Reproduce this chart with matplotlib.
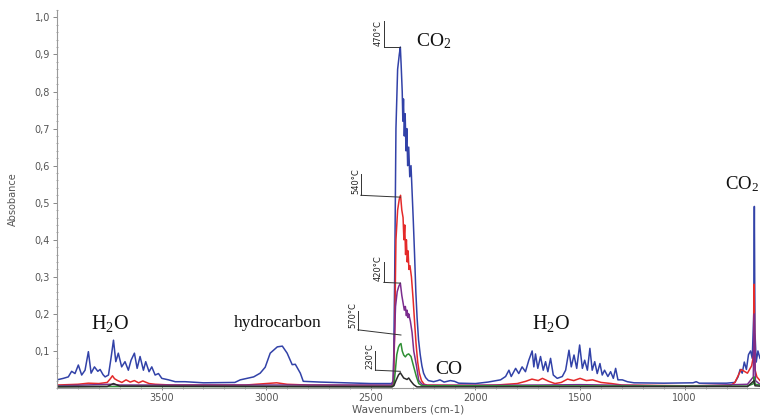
"""
FTIR spectra of evolved gas at several temperatures (absorbance vs wavenumber)
"""
import numpy as np
import matplotlib
matplotlib.use('Agg')
import matplotlib.pyplot as plt
from matplotlib.ticker import MultipleLocator, FuncFormatter

# ---- data (wavenumber cm-1, absorbance) ----
wn_470 = [4000, 3970, 3946, 3930, 3914, 3898, 3882, 3866, 3850, 3837, 3821, 3805, 3794,
          3780, 3770, 3754, 3742, 3730, 3719, 3707, 3691, 3675, 3659, 3646, 3630, 3617,
          3603, 3587, 3576, 3560, 3547, 3531, 3515, 3499, 3467, 3435, 3388, 3300, 3150,
          3124, 3060, 3029, 3005, 2981, 2947, 2923, 2900, 2876, 2861, 2837, 2823, 2742,
          2679, 2500, 2400, 2392, 2386, 2380, 2372, 2364, 2359, 2355, 2350, 2347, 2344,
          2340, 2336, 2332, 2328, 2324, 2319, 2314, 2308, 2302, 2297, 2291, 2285, 2279,
          2272, 2264, 2256, 2248, 2238, 2225, 2200, 2180, 2170, 2150, 2120, 2100, 2080,
          2000, 1940, 1880, 1856, 1840, 1829, 1808, 1793, 1777, 1761, 1745, 1729, 1721,
          1713, 1702, 1689, 1676, 1665, 1654, 1641, 1628, 1609, 1585, 1569, 1553, 1542,
          1529, 1516, 1502, 1489, 1478, 1465, 1453, 1442, 1430, 1418, 1405, 1394, 1383,
          1367, 1354, 1341, 1330, 1319, 1298, 1274, 1242, 1100, 960, 945, 930, 800, 760,
          745, 735, 725, 715, 705, 695, 685, 677, 670, 667, 664, 658, 650, 640]
ab_470 = [0.022, 0.026, 0.030, 0.045, 0.039, 0.062, 0.035, 0.048, 0.098, 0.040, 0.057, 0.045,
          0.050, 0.036, 0.030, 0.035, 0.080, 0.129, 0.071, 0.094, 0.057, 0.071, 0.048, 0.075,
          0.094, 0.053, 0.085, 0.048, 0.071, 0.044, 0.057, 0.035, 0.039, 0.026, 0.022, 0.017,
          0.017, 0.014, 0.015, 0.022, 0.030, 0.040, 0.056, 0.094, 0.111, 0.113, 0.094, 0.063,
          0.064, 0.040, 0.018, 0.016, 0.015, 0.012, 0.012, 0.020, 0.300, 0.700, 0.860, 0.900,
          0.920, 0.870, 0.800, 0.720, 0.780, 0.680, 0.740, 0.640, 0.700, 0.600, 0.650, 0.570,
          0.600, 0.520, 0.450, 0.360, 0.260, 0.190, 0.130, 0.090, 0.060, 0.040, 0.028, 0.020,
          0.017, 0.020, 0.022, 0.016, 0.020, 0.018, 0.013, 0.012, 0.016, 0.022, 0.031, 0.048,
          0.031, 0.053, 0.039, 0.057, 0.044, 0.075, 0.100, 0.057, 0.092, 0.053, 0.085, 0.048,
          0.071, 0.044, 0.080, 0.035, 0.026, 0.031, 0.048, 0.102, 0.057, 0.089, 0.053, 0.116,
          0.053, 0.075, 0.048, 0.107, 0.048, 0.071, 0.039, 0.066, 0.035, 0.048, 0.031, 0.044,
          0.026, 0.053, 0.022, 0.022, 0.017, 0.014, 0.013, 0.014, 0.017, 0.013, 0.013, 0.015,
          0.030, 0.050, 0.040, 0.070, 0.050, 0.090, 0.100, 0.080, 0.200, 0.490, 0.150, 0.070,
          0.100, 0.080]

wn_540 = [4000, 3900, 3850, 3800, 3760, 3745, 3735, 3725, 3710, 3690, 3670, 3650, 3630,
          3610, 3590, 3560, 3530, 3450, 3100, 2950, 2900, 2800, 2400, 2392, 2386, 2380,
          2372, 2364, 2358, 2352, 2346, 2342, 2338, 2334, 2330, 2326, 2322, 2318, 2313,
          2306, 2298, 2290, 2284, 2276, 2268, 2258, 2245, 2230, 2000, 1900, 1800, 1760,
          1730, 1700, 1680, 1650, 1620, 1590, 1560, 1530, 1500, 1470, 1440, 1400, 1350,
          1300, 1000, 780, 760, 730, 700, 680, 670, 668, 664, 655, 640]
ab_540 = [0.008, 0.010, 0.013, 0.012, 0.015, 0.025, 0.033, 0.025, 0.020, 0.015, 0.022, 0.016,
          0.020, 0.014, 0.019, 0.012, 0.010, 0.008, 0.008, 0.014, 0.010, 0.008, 0.006, 0.010,
          0.150, 0.400, 0.480, 0.510, 0.520, 0.480, 0.460, 0.400, 0.440, 0.360, 0.400, 0.340,
          0.370, 0.320, 0.330, 0.300, 0.240, 0.170, 0.120, 0.070, 0.040, 0.020, 0.010, 0.008,
          0.007, 0.008, 0.012, 0.018, 0.024, 0.020, 0.026, 0.018, 0.012, 0.015, 0.024, 0.020,
          0.026, 0.020, 0.022, 0.015, 0.012, 0.008, 0.006, 0.007, 0.015, 0.050, 0.040, 0.060,
          0.090, 0.280, 0.050, 0.030, 0.020]

wn_420 = [4000, 3740, 3700, 2950, 2400, 2394, 2388, 2382, 2374, 2366, 2359, 2352, 2346,
          2340, 2335, 2330, 2327, 2322, 2319, 2311, 2303, 2295, 2282, 2271, 2255, 2230,
          1700, 1500, 1000, 700, 672, 668, 662, 640]
ab_420 = [0.006, 0.010, 0.008, 0.008, 0.008, 0.020, 0.120, 0.220, 0.260, 0.275, 0.283, 0.250,
          0.230, 0.210, 0.220, 0.195, 0.210, 0.190, 0.200, 0.180, 0.150, 0.100, 0.060, 0.020,
          0.010, 0.007, 0.008, 0.009, 0.005, 0.010, 0.030, 0.200, 0.020, 0.010]

wn_570 = [4000, 2400, 2390, 2384, 2376, 2368, 2362, 2356, 2350, 2343, 2335, 2327, 2319,
          2308, 2295, 2282, 2271, 2255, 700, 670, 668, 664, 640]
ab_570 = [0.004, 0.004, 0.008, 0.040, 0.090, 0.110, 0.117, 0.120, 0.100, 0.089, 0.084, 0.090,
          0.092, 0.085, 0.057, 0.030, 0.012, 0.006, 0.005, 0.012, 0.030, 0.010, 0.008]

wn_230 = [4000, 3760, 3730, 3700, 2400, 2390, 2380, 2368, 2359, 2343, 2327, 2319, 2308,
          2295, 2280, 700, 668, 664, 640]
ab_230 = [0.003, 0.004, 0.012, 0.005, 0.003, 0.006, 0.020, 0.035, 0.041, 0.027, 0.023, 0.027,
          0.018, 0.009, 0.003, 0.004, 0.020, 0.006, 0.005]

series = [('470°C', wn_470, ab_470, '#3242a8'),
          ('540°C', wn_540, ab_540, '#e42a2a'),
          ('420°C', wn_420, ab_420, '#7b2d8e'),
          ('570°C', wn_570, ab_570, '#2f8f35'),
          ('230°C', wn_230, ab_230, '#2a2a2a')]

# temperature labels: (label, text/bar x, bar bottom, bar top, line end y)
temp_labels = [('470°C', 2438, 0.920, 0.990, 0.920),
               ('540°C', 2548, 0.520, 0.578, 0.515),
               ('420°C', 2438, 0.285, 0.340, 0.283),
               ('570°C', 2562, 0.157, 0.208, 0.143),
               ('230°C', 2478, 0.048, 0.100, 0.045)]

# gas labels: (text, wavenumber, absorbance, fontsize, horizontal alignment)
gas_labels = [('H$_2$O', 3745, 0.175, 14.5, 'center'),
              ('hydrocarbon', 2945, 0.175, 12.5, 'center'),
              ('CO$_2$', 2200, 0.935, 14, 'center'),
              ('CO', 2130, 0.05, 14, 'center'),
              ('H$_2$O', 1640, 0.175, 14.5, 'center'),
              ('CO$_2$', 806, 0.55, 13.5, 'left')]

yticks = [0.1, 0.2, 0.3, 0.4, 0.5, 0.6, 0.7, 0.8, 0.9, 1.0]
xticks = [3500, 3000, 2500, 2000, 1500, 1000]


def main():
    plt.rcParams['mathtext.fontset'] = 'custom'
    plt.rcParams['mathtext.rm'] = 'Liberation Serif'
    plt.rcParams['mathtext.it'] = 'Liberation Serif:italic'

    fig = plt.figure(figsize=(7.6, 4.15), dpi=100)
    ax = fig.add_axes([57 / 760, 27 / 415, 703 / 760, 378 / 415])

    for name, wn, ab, col in series:
        ax.plot(wn, ab, color=col, lw=1.1, label=name)

    # leader lines from label to the CO2 peak of each curve
    peaks = {}
    for name, wn, ab, col in series:
        wn = np.array(wn)
        ab = np.array(ab)
        m = (wn > 2200) & (wn < 2450)
        peaks[name] = wn[m][np.argmax(ab[m])]
    for name, xb, yb, yt, ye in temp_labels:
        ax.plot([xb, xb], [yb, yt], color='#333333', lw=0.7)
        ax.plot([xb, peaks[name]], [yb, ye], color='#333333', lw=0.7)
        ax.text(xb + 4, yb + 0.004, name, rotation=90, ha='right', va='bottom',
                fontsize=6, color='#222222')

    for txt, x, y, fs, ha in gas_labels:
        ax.text(x, y, txt, ha=ha, va='center', fontsize=fs,
                family='Liberation Serif', color='#111111', clip_on=False)

    ax.set_xlim(4000, 640)
    ax.set_ylim(0, 1.02)
    ax.set_xticks(xticks)
    ax.set_yticks(yticks)
    ax.xaxis.set_minor_locator(MultipleLocator(100))
    ax.yaxis.set_minor_locator(MultipleLocator(0.02))
    ax.yaxis.set_major_formatter(FuncFormatter(lambda v, p: ('%.1f' % v).replace('.', ',')))

    for s in ['top', 'right']:
        ax.spines[s].set_visible(False)
    for s in ['left', 'bottom']:
        ax.spines[s].set_color('#9a9a9a')
        ax.spines[s].set_linewidth(0.8)
    ax.tick_params(axis='both', which='major', labelsize=7, labelcolor='#555555',
                   color='#888888', length=3, width=0.7, pad=2)
    ax.tick_params(axis='both', which='minor', color='#999999', length=2, width=0.6,
                   direction='inout')
    ax.tick_params(axis='x', which='major', direction='inout')

    ax.set_ylabel('Absobance', fontsize=7, color='#555555', labelpad=12)
    ax.set_xlabel('Wavenumbers (cm-1)', fontsize=7.5, color='#555555', labelpad=1)

    fig.savefig('out.png', dpi=100)


if __name__ == '__main__':
    main()
